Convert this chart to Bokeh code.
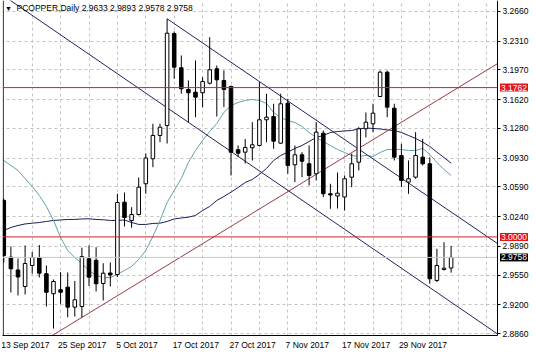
from bokeh.plotting import figure
from bokeh.models import Range1d, FixedTicker, Span, Label, PrintfTickFormatter, BoxAnnotation
from bokeh.embed import file_html
from bokeh.resources import INLINE

# ---------------- data ----------------
symbol = "PCOPPER,Daily"
x_labels = ["13 Sep 2017", "25 Sep 2017", "5 Oct 2017", "17 Oct 2017",
            "27 Oct 2017", "7 Nov 2017", "17 Nov 2017", "29 Nov 2017"]
x_label_idx = [0, 8, 16, 24, 32, 40, 48, 56]
y_ticks = [3.2660, 3.2310, 3.1970, 3.1620, 3.1280, 3.0930,
           3.0590, 3.0240, 2.9890, 2.9550, 2.9200, 2.8860]

opens = [3.0430, 2.9761, 2.9610, 2.9415, 2.9663, 2.9757, 2.9565, 2.9329, 2.9376, 2.9407,
         2.9171, 2.9179, 2.9742, 2.9724, 2.9450, 2.9574, 2.9556, 3.0410, 3.0194, 3.0264,
         3.0627, 3.0922, 3.1197, 3.1315, 3.2400, 3.1996, 3.1740, 3.1708, 3.1701, 3.1814,
         3.1984, 3.1846, 3.1775, 3.1028, 3.1000, 3.1052, 3.1079, 3.1382, 3.1421, 3.1106,
         3.1578, 3.0851, 3.0969, 3.0863, 3.0745, 3.1224, 3.0509, 3.0483, 3.0471, 3.0705,
         3.0882, 3.1276, 3.1335, 3.1657, 3.1944, 3.1519, 3.0961, 3.0646, 3.0705, 3.0941,
         3.0863, 2.9486, 2.9615, 2.9633]
highs = [3.0453, 2.9887, 2.9745, 2.9899, 2.9822, 2.9904, 2.9663, 2.9497, 2.9584, 2.9580,
         2.9480, 2.9873, 2.9899, 2.9879, 2.9690, 2.9698, 3.0509, 3.0524, 3.0351, 3.0701,
         3.0984, 3.1335, 3.1335, 3.2574, 3.2424, 3.2141, 3.1846, 3.2082, 3.1885, 3.2357,
         3.2023, 3.1964, 3.1787, 3.1079, 3.1155, 3.1354, 3.1826, 3.1689, 3.1571, 3.1689,
         3.1630, 3.1079, 3.1000, 3.1079, 3.1354, 3.1256, 3.0627, 3.0760, 3.0725, 3.0981,
         3.1295, 3.1468, 3.1571, 3.1964, 3.1964, 3.1571, 3.1099, 3.0902, 3.1236, 3.1158,
         3.0941, 2.9860, 2.9938, 2.9893]
lows = [2.9698, 2.9344, 2.9309, 2.9320, 2.9565, 2.9521, 2.9179, 2.8919, 2.9211, 2.9052,
        2.9061, 2.9049, 2.9421, 2.9356, 2.9250, 2.9415, 2.9527, 3.0123, 3.0108, 3.0253,
        3.0509, 3.0823, 3.1118, 3.1102, 3.1866, 3.1689, 3.1354, 3.1413, 3.1531, 3.1799,
        3.1421, 3.1531, 3.0725, 3.0941, 3.0866, 3.0902, 3.1067, 3.1118, 3.1040, 3.1099,
        3.0745, 3.0646, 3.0705, 3.0607, 3.0666, 3.0469, 3.0332, 3.0335, 3.0312, 3.0587,
        3.0784, 3.1173, 3.1236, 3.1649, 3.1413, 3.0902, 3.0587, 3.0509, 3.0686, 3.0843,
        2.9447, 2.9466, 2.9604, 2.9578]
closes = [2.9781, 2.9624, 2.9527, 2.9686, 2.9757, 2.9572, 2.9347, 2.9474, 2.9347, 2.9171,
          2.9258, 2.9769, 2.9525, 2.9447, 2.9572, 2.9551, 3.0406, 3.0229, 3.0264, 3.0587,
          3.0931, 3.1197, 3.1295, 3.2404, 3.2003, 3.1748, 3.1701, 3.1649, 3.1834, 3.1972,
          3.1854, 3.1740, 3.1000, 3.0988, 3.1055, 3.1087, 3.1382, 3.1413, 3.1130, 3.1571,
          3.0843, 3.0969, 3.0893, 3.0725, 3.1236, 3.0509, 3.0495, 3.0516, 3.0686, 3.0863,
          3.1276, 3.1354, 3.1460, 3.1944, 3.1531, 3.0941, 3.0666, 3.0686, 3.0961, 3.0863,
          2.9506, 2.9663, 2.9631, 2.9758]

ma_fast = [3.0902, 3.0843, 3.0784, 3.0689, 3.0595, 3.0489, 3.0359, 3.0194, 2.9993, 2.9840,
           2.9757, 2.9686, 2.9604, 2.9545, 2.9521, 2.9521, 2.9557, 2.9604, 2.9651, 2.9734,
           2.9840, 3.0005, 3.0194, 3.0406, 3.0548, 3.0689, 3.0878, 3.1020, 3.1138, 3.1244,
           3.1339, 3.1468, 3.1551, 3.1586, 3.1610, 3.1622, 3.1610, 3.1575, 3.1468, 3.1409,
           3.1374, 3.1350, 3.1303, 3.1232, 3.1173, 3.1126, 3.1079, 3.1032, 3.0996, 3.0961,
           3.0949, 3.0961, 3.0949, 3.0996, 3.1032, 3.1032, 3.1032, 3.1020, 3.1020, 3.1044,
           3.0973, 3.0878, 3.0796, 3.0725]
ma_slow = [3.0076, 3.0111, 3.0135, 3.0153, 3.0162, 3.0170, 3.0182, 3.0194, 3.0200, 3.0206,
           3.0206, 3.0212, 3.0214, 3.0206, 3.0202, 3.0194, 3.0194, 3.0200, 3.0170, 3.0147,
           3.0147, 3.0159, 3.0162, 3.0182, 3.0212, 3.0223, 3.0233, 3.0253, 3.0312, 3.0359,
           3.0430, 3.0477, 3.0528, 3.0583, 3.0642, 3.0678, 3.0737, 3.0808, 3.0902, 3.0961,
           3.1000, 3.1044, 3.1079, 3.1126, 3.1173, 3.1197, 3.1232, 3.1244, 3.1250, 3.1256,
           3.1274, 3.1285, 3.1280, 3.1274, 3.1262, 3.1256, 3.1232, 3.1197, 3.1162, 3.1118,
           3.1067, 3.1000, 3.0937, 3.0870]

# drawn objects: trend lines (bar index, price) and horizontal levels
channel_upper_idx = [23, 70]
channel_upper_val = [3.2574, 2.9895]
channel_lower_idx = [-1, 70]
channel_lower_val = [3.2901, 2.8828]
support_idx = [6, 70]
support_val = [2.8794, 3.2069]
levels = [3.1762, 3.0000]
last_price = closes[-1]

# ---------------- layout helpers (pixel -> data) ----------------
X0_PX, BAR_PX = 3.3, 7.1
Y_TOP, PX_PRICE = 3.27898, 0.0011801
RIGHT_PX, BOTTOM_PX = 497, 335


def ix(px):
    return (px - X0_PX) / BAR_PX


def py(px):
    return Y_TOP - PX_PRICE * px


FONT = "Liberation Sans"
FS = "8.5px"

# the frame covers the whole canvas; both scales are drawn inside it at fixed locations
p = figure(width=536, height=354,
           x_range=Range1d(ix(0), ix(536)), y_range=Range1d(py(354), py(0)),
           y_axis_location="right", output_backend="svg", toolbar_location=None,
           min_border_left=0, min_border_right=0, min_border_top=0, min_border_bottom=0,
           background_fill_color="white", border_fill_color="white",
           outline_line_color=None)

# y axis (right price scale)
yax = p.yaxis[0]
yax.fixed_location = ix(RIGHT_PX)
yax.bounds = (py(BOTTOM_PX), py(0))
yax.level = "overlay"
yax.ticker = FixedTicker(ticks=y_ticks)
yax.formatter = PrintfTickFormatter(format="%.4f")
yax.major_tick_out = 3
yax.major_tick_in = 0
yax.minor_tick_line_color = None
yax.axis_line_color = "black"
yax.major_tick_line_color = "black"
yax.major_label_standoff = 2
yax.major_label_text_font = FONT
yax.major_label_text_font_size = FS
yax.major_label_text_color = "black"

# x axis: MT4 labels start at the tick, so centre them to the right of it
centers = []
overrides = {}
for idx, lab in zip(x_label_idx, x_labels):
    start_px = X0_PX + BAR_PX * idx - 1
    c = round(ix(start_px + len(lab) * 4.1 / 2), 2)
    centers.append(c)
    overrides[c] = lab
xax = p.xaxis[0]
xax.fixed_location = py(BOTTOM_PX)
xax.bounds = (ix(2.2), ix(RIGHT_PX))
xax.level = "overlay"
xax.ticker = FixedTicker(ticks=centers)
xax.major_label_overrides = overrides
xax.major_tick_line_color = None
xax.minor_tick_line_color = None
xax.major_tick_out = 0
xax.major_tick_in = 0
xax.major_label_standoff = 4
xax.axis_line_color = "black"
xax.major_label_text_font = FONT
xax.major_label_text_font_size = FS
xax.major_label_text_color = "black"

# grids
p.ygrid.ticker = FixedTicker(ticks=y_ticks)
p.xgrid.ticker = FixedTicker(ticks=list(range(4, 70, 4)))
for g in (p.xgrid, p.ygrid):
    g.grid_line_color = "#C4C4C4"
    g.grid_line_dash = "3 3"
    g.grid_line_width = 1

# left frame border
p.add_layout(Span(location=ix(2.7), dimension="height", line_color="black", line_width=1))

# bid line and horizontal levels
p.add_layout(Span(location=last_price, dimension="width", line_color="#C8C8C8", line_width=1))
for lv in levels:
    p.add_layout(Span(location=lv, dimension="width", line_color="#C8232B", line_width=1))

# moving averages
idx_all = list(range(len(opens)))
p.line(idx_all, ma_slow, line_color="#1E1E5A", line_width=1)
p.line(idx_all, ma_fast, line_color="#5FA3A6", line_width=1)

# trend lines
p.line(channel_upper_idx, channel_upper_val, line_color="#23235E", line_width=1)
p.line(channel_lower_idx, channel_lower_val, line_color="#23235E", line_width=1)
p.line(support_idx, support_val, line_color="#9A3A40", line_width=1)

# candles
up_x, up_top, up_bot = [], [], []
dn_x, dn_top, dn_bot = [], [], []
for i, (o, c) in enumerate(zip(opens, closes)):
    if c > o:
        up_x.append(i); up_top.append(c); up_bot.append(o)
    else:
        dn_x.append(i); dn_top.append(o); dn_bot.append(c)
p.segment(x0=idx_all, y0=lows, x1=idx_all, y1=highs, line_color="black", line_width=1)
p.vbar(x=up_x, top=up_top, bottom=up_bot, width=0.5, fill_color="white", line_color="black", line_width=1)
p.vbar(x=dn_x, top=dn_top, bottom=dn_bot, width=0.5, fill_color="black", line_color="black", line_width=1)

# blank scale strips (cover grid / lines outside the chart border)
p.add_layout(BoxAnnotation(left=ix(RIGHT_PX), fill_color="white", fill_alpha=1.0,
                           line_color=None, level="annotation"))
p.add_layout(BoxAnnotation(top=py(BOTTOM_PX + 0.5), fill_color="white", fill_alpha=1.0,
                           line_color=None, level="annotation"))
p.add_layout(BoxAnnotation(right=ix(2.2), fill_color="white", fill_alpha=1.0,
                           line_color=None, level="annotation"))

# header text
p.add_layout(Label(x=ix(4.5), y=py(7.5), text="\u25bc", text_font=FONT, text_font_size="7px",
                   text_color="black", text_baseline="middle", text_align="left"))
header = "%s  %.4f %.4f %.4f %.4f" % (symbol, opens[-1], highs[-1], lows[-1], closes[-1])
p.add_layout(Label(x=ix(16), y=py(7.5), text=header, text_font=FONT, text_font_size=FS,
                   text_color="black", text_baseline="middle", text_align="left"))

# price boxes on the right scale
boxes = [(lv, "#E3161B") for lv in levels] + [(last_price, "black")]
for lv, col in boxes:
    p.add_layout(Label(x=ix(499.5), y=lv, text="%.4f" % lv, text_font=FONT,
                       text_font_size=FS, text_color="white", text_baseline="middle",
                       text_align="left", background_fill_color=col, padding=1,
                       level="overlay"))

open("out.html", "w").write(file_html(p, INLINE))
